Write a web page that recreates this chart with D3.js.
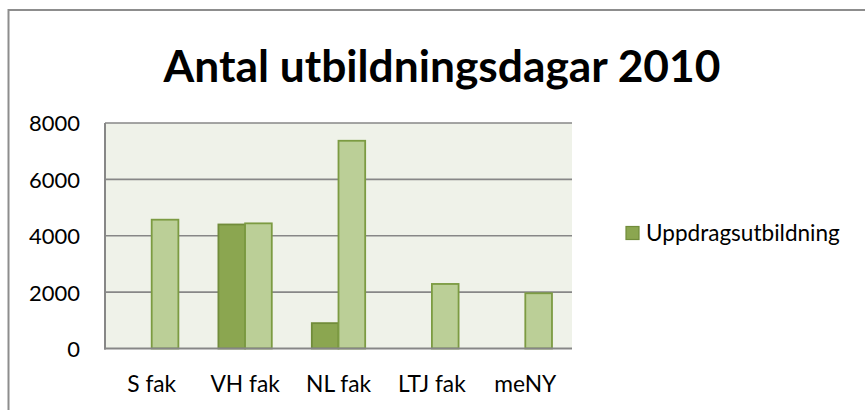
<!DOCTYPE html>
<html>
<head>
<meta charset="utf-8">
<script src="https://cdn.jsdelivr.net/npm/d3@7"></script>
<style>
  html, body { margin: 0; padding: 0; background: #fff; }
  svg { display: block; }
  text { font-family: Lato, "Open Sans", "DejaVu Sans", sans-serif; fill: #000; }
</style>
</head>
<body>
<svg id="chart" width="865" height="410"></svg>
<script>
const title = "Antal utbildningsdagar 2010";
const categories = ["S fak", "VH fak", "NL fak", "LTJ fak", "meNY"];
const seriesNames = ["Uppdragsutbildning", ""];
const uppdragValues = [0, 4400, 900, 0, 0];
const otherValues = [4570, 4440, 7370, 2290, 1960];
const yTicks = [0, 2000, 4000, 6000, 8000];
const legendNames = ["Uppdragsutbildning"];

const svg = d3.select("#chart");
const W = 865, H = 410;
const plot = { left: 105, right: 572, top: 123, bottom: 348.5 };
const colors = {
  darkFill: "#8BA650", darkStroke: "#718C3A",
  lightFill: "#BBCF97", lightStroke: "#7C9B42",
  grid: "#878787", plotBg: "#EFF2E9", border: "#8D8D8D"
};

// outer chart border (extends past right/bottom edge)
svg.append("rect")
  .attr("x", 8.5).attr("y", 10)
  .attr("width", 900).attr("height", 450)
  .attr("fill", "#fff").attr("stroke", colors.border).attr("stroke-width", 2);

// fit font size so a string reaches a target width
function fitSize(str, targetW, weight, base) {
  const t = svg.append("text").attr("font-size", base).attr("font-weight", weight).text(str);
  const w = t.node().getComputedTextLength();
  t.remove();
  return base * targetW / w;
}

const x = d3.scaleBand().domain(categories).range([plot.left, plot.right]).paddingInner(0).paddingOuter(0);
const series = ["u", "o"];
const x1 = d3.scaleBand().domain(series).range([0, x.bandwidth()]).paddingInner(0).paddingOuter(0.75);
const y = d3.scaleLinear().domain([0, 8000]).range([plot.bottom, plot.top]);

// plot background
svg.append("rect")
  .attr("x", plot.left).attr("y", plot.top)
  .attr("width", plot.right - plot.left).attr("height", plot.bottom - plot.top)
  .attr("fill", colors.plotBg);

// gridlines
svg.append("g").selectAll("line").data(yTicks.filter(d => d > 0)).join("line")
  .attr("x1", plot.left).attr("x2", plot.right)
  .attr("y1", d => y(d)).attr("y2", d => y(d))
  .attr("stroke", colors.grid).attr("stroke-width", 1.6);

// bars
const rows = categories.map((c, i) => ({ c, u: uppdragValues[i], o: otherValues[i] }));
const g = svg.append("g");
g.selectAll("rect.u").data(rows.filter(d => d.u > 0)).join("rect")
  .attr("class", "u")
  .attr("x", d => x(d.c) + x1("u"))
  .attr("y", d => y(d.u))
  .attr("width", x1.bandwidth())
  .attr("height", d => y(0) - y(d.u))
  .attr("fill", colors.darkFill).attr("stroke", colors.darkStroke).attr("stroke-width", 1.8);
g.selectAll("rect.o").data(rows.filter(d => d.o > 0)).join("rect")
  .attr("class", "o")
  .attr("x", d => x(d.c) + x1("o"))
  .attr("y", d => y(d.o))
  .attr("width", x1.bandwidth())
  .attr("height", d => y(0) - y(d.o))
  .attr("fill", colors.lightFill).attr("stroke", colors.lightStroke).attr("stroke-width", 1.8);

// axes lines
svg.append("line").attr("x1", plot.left).attr("x2", plot.left).attr("y1", plot.top).attr("y2", plot.bottom + 1)
  .attr("stroke", colors.grid).attr("stroke-width", 2);
svg.append("line").attr("x1", plot.left - 1).attr("x2", plot.right).attr("y1", plot.bottom).attr("y2", plot.bottom)
  .attr("stroke", colors.grid).attr("stroke-width", 2);

// y labels
const yAxis = d3.axisLeft(y).tickValues(yTicks).tickSize(0).tickPadding(0).tickFormat(d3.format("d"));
const ySize = fitSize("8000", 51, "normal", 20);
const ya = svg.append("g").attr("transform", `translate(80,0)`).call(yAxis);
ya.select(".domain").remove();
ya.selectAll("text").attr("font-size", ySize).attr("font-family", "Lato, sans-serif").attr("fill", "#000").attr("dy", "0.36em");

// x labels
const xSize = fitSize("S fak", 49, "normal", 20);
const xAxis = d3.axisBottom(x).tickSize(0).tickPadding(0);
const xa = svg.append("g").attr("transform", `translate(0,${plot.bottom})`).call(xAxis);
xa.select(".domain").remove();
xa.selectAll("text").attr("font-size", xSize).attr("font-family", "Lato, sans-serif").attr("fill", "#000")
  .attr("dy", null).attr("y", 391.5 - plot.bottom);

// title
const tSize = fitSize(title, 557, "bold", 40);
svg.append("text").attr("x", 442).attr("y", 82).attr("text-anchor", "middle")
  .attr("font-size", tSize).attr("font-weight", "bold").text(title);

// legend
const lSize = fitSize(legendNames[0], 194, "normal", 20);
const lg = svg.append("g").selectAll("g").data(legendNames).join("g");
lg.append("rect").attr("x", 626).attr("y", 226.5).attr("width", 13).attr("height", 13)
  .attr("fill", colors.darkFill).attr("stroke", colors.darkStroke).attr("stroke-width", 1.2);
lg.append("text").attr("x", 646).attr("y", 240.5).attr("font-size", lSize).text(d => d);
</script>
</body>
</html>
